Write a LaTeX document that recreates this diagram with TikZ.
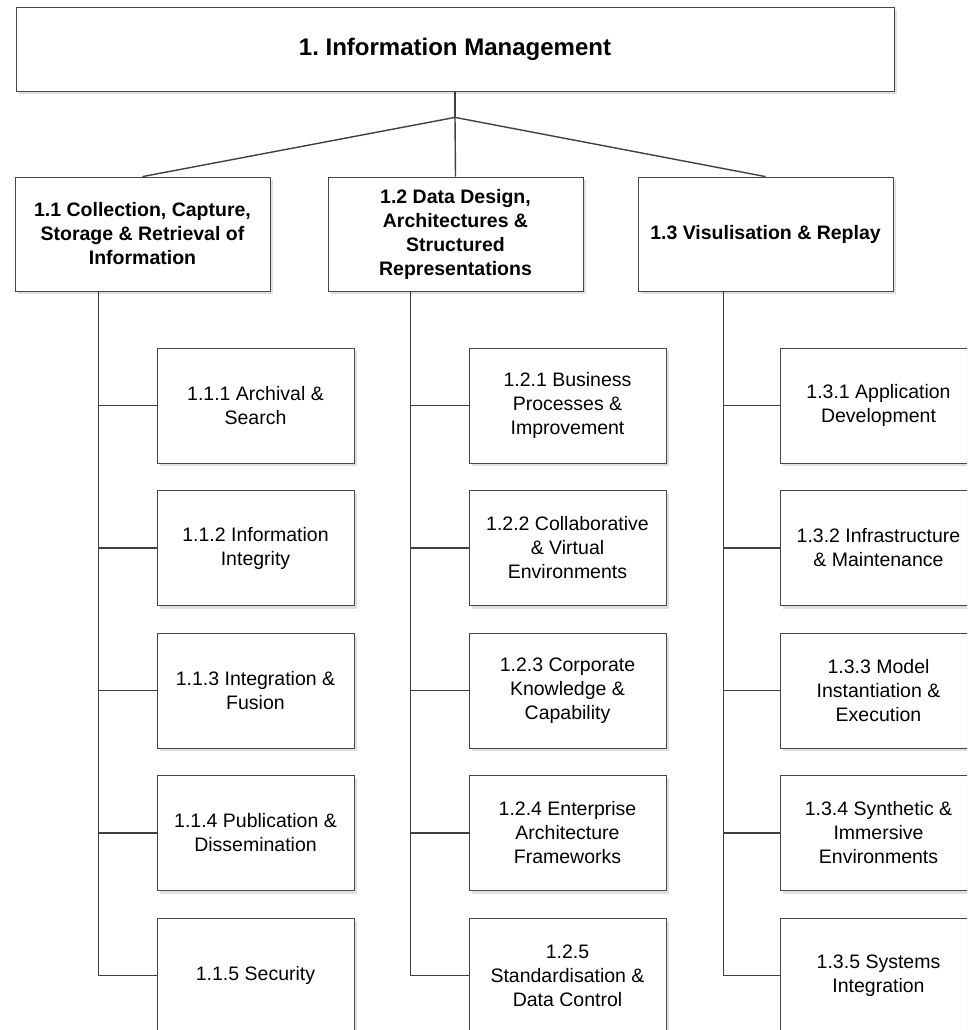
\documentclass[tikz,border=0pt]{standalone}
\usepackage{fontspec}
\setmainfont{Liberation Sans}
\frenchspacing
\usetikzlibrary{shadows}
\tikzset{
  box/.style={draw=black!72, line width=0.8pt, fill=white, align=center, inner sep=2pt,
    drop shadow={shadow xshift=3pt, shadow yshift=-3pt, fill=black!12, opacity=1}},
  topbox/.style={box, minimum width=878pt, minimum height=84pt, font=\bfseries\fontsize{24}{29}\selectfont},
  areabox/.style={box, minimum width=255pt, minimum height=114pt, font=\bfseries\fontsize{19.5}{24}\selectfont},
  itembox/.style={box, minimum width=197pt, minimum height=115pt, font=\fontsize{19.5}{24}\selectfont},
  link/.style={draw=black!75, line width=1.4pt}
}
\begin{document}
\begin{tikzpicture}[x=1pt,y=-1pt]
\useasboundingbox (0,0) rectangle (967,1030);
\clip (0,0) rectangle (967,1030);
% top level
\node[topbox] (im) at (455,49) {1. Information Management};
% second level
\node[areabox] (cc) at (142.5,234) {1.1 Collection, Capture,\\Storage \& Retrieval of\\Information};
\node[areabox] (dd) at (455.5,234) {1.2 Data Design,\\Architectures \&\\Structured\\Representations};
\node[areabox] (vr) at (765.5,234) {1.3 Visulisation \& Replay};
% third level, first column
\node[itembox] (c1) at (255.5,405.5) {1.1.1 Archival \&\\Search};
\node[itembox] (c2) at (255.5,548) {1.1.2 Information\\Integrity};
\node[itembox] (c3) at (255.5,690.5) {1.1.3 Integration \&\\Fusion};
\node[itembox] (c4) at (255.5,833) {1.1.4 Publication \&\\Dissemination};
\node[itembox] (c5) at (255.5,975.5) {1.1.5 Security};
% third level, second column
\node[itembox] (d1) at (567.5,405.5) {1.2.1 Business\\Processes \&\\Improvement};
\node[itembox] (d2) at (567.5,548) {1.2.2 Collaborative\\ \& Virtual\\Environments};
\node[itembox] (d3) at (567.5,690.5) {1.2.3 Corporate\\Knowledge \&\\Capability};
\node[itembox] (d4) at (567.5,833) {1.2.4 Enterprise\\Architecture\\Frameworks};
\node[itembox] (d5) at (567.5,975.5) {1.2.5\\Standardisation \&\\Data Control};
% third level, third column
\node[itembox] (v1) at (878.5,405.5) {1.3.1 Application\\Development};
\node[itembox] (v2) at (878.5,548) {1.3.2 Infrastructure\\ \& Maintenance};
\node[itembox] (v3) at (878.5,690.5) {1.3.3 Model\\Instantiation \&\\Execution};
\node[itembox] (v4) at (878.5,833) {1.3.4 Synthetic \&\\Immersive\\Environments};
\node[itembox] (v5) at (878.5,975.5) {1.3.5 Systems\\Integration};
% connectors
\coordinate (hub) at ([yshift=-26pt]im.south);
\draw[link] (im.south) -- (hub);
\draw[link] (hub) -- (cc.north);
\draw[link] (hub) -- (dd.north);
\draw[link] (hub) -- (vr.north);
\coordinate (ct) at ([xshift=84pt]cc.south west);
\coordinate (dt) at ([xshift=83pt]dd.south west);
\coordinate (vt) at ([xshift=86pt]vr.south west);
\draw[link] (ct) |- (c5.west);
\draw[link] (dt) |- (d5.west);
\draw[link] (vt) |- (v5.west);
\foreach \i in {1,...,4} {
  \draw[link] (c\i.west) -- (c\i.west -| ct);
  \draw[link] (d\i.west) -- (d\i.west -| dt);
  \draw[link] (v\i.west) -- (v\i.west -| vt);
}
\end{tikzpicture}
\end{document}
